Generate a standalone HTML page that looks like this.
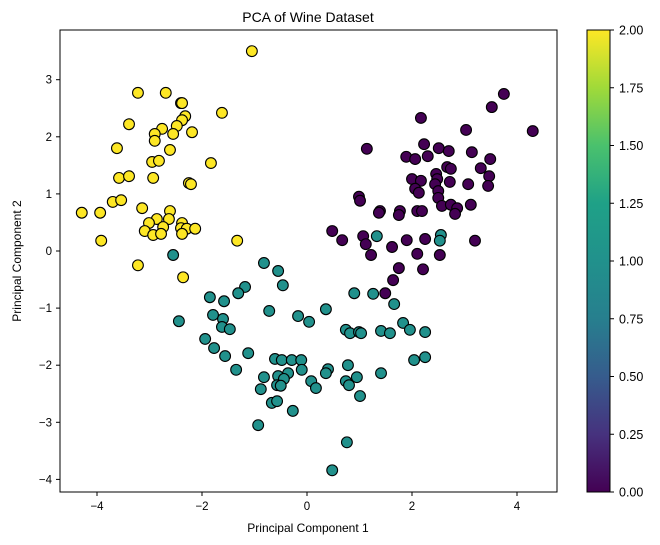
<!DOCTYPE html>
<html><head><meta charset="utf-8"><style>
html,body{margin:0;padding:0;background:#fff;}
svg{display:block;font-family:"Liberation Sans","DejaVu Sans",sans-serif;}
</style></head><body>
<svg id="chart" width="660" height="545" viewBox="0 0 660 545">
<defs>
<linearGradient id="vir" x1="0" y1="1" x2="0" y2="0">
<stop offset="0" stop-color="#440154"/><stop offset="0.125" stop-color="#46327e"/><stop offset="0.25" stop-color="#365c8d"/><stop offset="0.375" stop-color="#277f8e"/><stop offset="0.5" stop-color="#21918c"/><stop offset="0.625" stop-color="#1fa187"/><stop offset="0.75" stop-color="#4ac16d"/><stop offset="0.875" stop-color="#a0da39"/><stop offset="1" stop-color="#fde725"/>
</linearGradient>
</defs>
<text x="308" y="22" text-anchor="middle" font-size="14">PCA of Wine Dataset</text>
<g id="plot"></g>
<rect x="60" y="30" width="497" height="462" fill="none" stroke="#000" stroke-width="1"/>
<g id="xticks"></g>
<g id="yticks"></g>
<text x="308" y="532" text-anchor="middle" font-size="12">Principal Component 1</text>
<text transform="translate(21,261) rotate(-90)" text-anchor="middle" font-size="12">Principal Component 2</text>
<rect x="587" y="30" width="23" height="462" fill="url(#vir)" stroke="#000" stroke-width="1"/>
<g id="cticks"></g>
</svg>
<script>
const class0 = [[3.75,2.75],[3.52,2.52],[2.17,2.33],[3.03,2.12],[4.30,2.10],[1.14,1.79],[2.23,1.87],[2.51,1.80],[2.70,1.75],[3.14,1.73],[3.49,1.61],[1.89,1.65],[2.06,1.61],[2.30,1.66],[2.67,1.47],[2.74,1.44],[3.31,1.45],[3.47,1.31],[3.45,1.14],[2.46,1.35],[2.48,1.26],[2.44,1.17],[2.00,1.26],[2.17,1.23],[2.72,1.21],[3.07,1.17],[2.06,1.09],[2.13,1.02],[2.50,1.05],[2.50,0.93],[2.57,0.79],[2.74,0.81],[2.86,0.75],[2.82,0.65],[3.12,0.81],[0.99,0.95],[1.01,0.88],[1.39,0.70],[1.37,0.67],[1.77,0.70],[1.75,0.63],[2.10,0.70],[2.19,0.70],[0.48,0.35],[0.67,0.19],[1.07,0.26],[1.12,0.12],[1.62,0.07],[1.90,0.19],[2.25,0.21],[3.20,0.18],[1.22,-0.07],[2.10,-0.05],[2.53,-0.07],[1.75,-0.30],[2.21,-0.32],[1.64,-0.51],[1.49,-0.74]];
const class1 = [[-2.55,-0.07],[-0.82,-0.21],[-0.55,-0.35],[-0.46,-0.60],[-1.18,-0.63],[-1.31,-0.74],[-1.85,-0.81],[-1.58,-0.88],[-0.72,-1.05],[-0.17,-1.14],[0.04,-1.24],[0.36,-1.02],[0.90,-0.74],[1.26,-0.75],[1.66,-0.93],[-2.44,-1.23],[-1.79,-1.12],[-1.60,-1.19],[-1.62,-1.33],[-1.47,-1.37],[-1.94,-1.54],[-1.77,-1.70],[-1.56,-1.84],[-1.12,-1.79],[-1.35,-2.08],[0.74,-1.38],[0.82,-1.44],[0.99,-1.42],[1.03,-1.44],[1.41,-1.40],[1.58,-1.44],[1.83,-1.26],[1.96,-1.38],[2.25,-1.42],[2.04,-1.91],[2.25,-1.86],[-0.61,-1.89],[-0.48,-1.91],[-0.29,-1.91],[-0.11,-1.91],[-0.10,-2.08],[-0.36,-2.14],[-0.55,-2.19],[-0.44,-2.24],[-0.82,-2.21],[-0.57,-2.35],[-0.50,-2.36],[-0.88,-2.42],[0.08,-2.28],[0.17,-2.40],[0.40,-2.07],[0.36,-2.14],[0.78,-2.00],[0.95,-2.21],[0.74,-2.28],[0.80,-2.35],[1.41,-2.14],[1.01,-2.54],[-0.67,-2.66],[-0.57,-2.63],[-0.27,-2.80],[-0.93,-3.05],[0.76,-3.35],[0.48,-3.84],[1.33,0.26],[2.55,0.28],[2.53,0.18]];
const class2 = [[-1.05,3.50],[-3.22,2.77],[-2.69,2.77],[-2.40,2.59],[-2.38,2.59],[-2.32,2.36],[-2.38,2.29],[-2.48,2.19],[-1.62,2.42],[-3.39,2.22],[-2.76,2.14],[-2.90,2.05],[-2.90,1.93],[-2.55,2.05],[-2.19,2.08],[-3.62,1.80],[-2.61,1.77],[-2.95,1.56],[-2.82,1.58],[-1.83,1.54],[-3.58,1.28],[-3.39,1.31],[-2.93,1.28],[-2.25,1.19],[-2.21,1.17],[-3.70,0.86],[-3.54,0.89],[-3.14,0.75],[-4.29,0.67],[-3.94,0.67],[-2.61,0.70],[-2.63,0.56],[-2.86,0.56],[-3.01,0.49],[-2.74,0.42],[-3.09,0.35],[-2.93,0.28],[-2.78,0.30],[-2.38,0.49],[-2.40,0.40],[-2.29,0.39],[-2.13,0.39],[-2.38,0.30],[-3.92,0.18],[-1.33,0.18],[-3.22,-0.25],[-2.36,-0.46]];
const xTicks = [-4,-2,0,2,4];
const yTicks = [-4,-3,-2,-1,0,1,2,3];
const cTicks = [0,0.25,0.5,0.75,1,1.25,1.5,1.75,2];
const classColors = ["#440154","#21918c","#fde725"];

const NS="http://www.w3.org/2000/svg";
const sx = v => 307 + v*52.5;
const sy = v => 251 - v*57.1;
const sc = v => 492 - v/2*462;
function mk(tag, attrs, parent){const e=document.createElementNS(NS,tag);for(const k in attrs)e.setAttribute(k,attrs[k]);parent.appendChild(e);return e;}
const plot=document.getElementById('plot');
[class0,class1,class2].forEach((pts,ci)=>{
  pts.forEach(p=>{
    const c=mk('circle',{cx:sx(p[0]),cy:sy(p[1]),r:5.4,fill:classColors[ci],stroke:'#000','stroke-width':1.1},plot);
    
    
  });
});
const xg=document.getElementById('xticks');
xTicks.forEach(t=>{
  const l=mk('line',{x1:sx(t),x2:sx(t),y1:492,y2:496,stroke:'#000'},xg);
  
  
  const tx=mk('text',{x:sx(t),y:510,'text-anchor':'middle','font-size':11.5},xg);
  tx.textContent=(t<0?'\u2212':'')+Math.abs(t);
  
  
});
const yg=document.getElementById('yticks');
yTicks.forEach(t=>{
  const l=mk('line',{x1:56,x2:60,y1:sy(t),y2:sy(t),stroke:'#000'},yg);
  
  
  const tx=mk('text',{x:52,y:sy(t)+4,'text-anchor':'end','font-size':11.5},yg);
  tx.textContent=(t<0?'\u2212':'')+Math.abs(t);
  
  
});
const cg=document.getElementById('cticks');
cTicks.forEach(t=>{
  const l=mk('line',{x1:610,x2:614,y1:sc(t),y2:sc(t),stroke:'#000'},cg);
  
  
  const tx=mk('text',{x:619,y:sc(t)+4.5,'font-size':12.5},cg);
  tx.textContent=t.toFixed(2);
  
  
});
</script>
</body></html>
